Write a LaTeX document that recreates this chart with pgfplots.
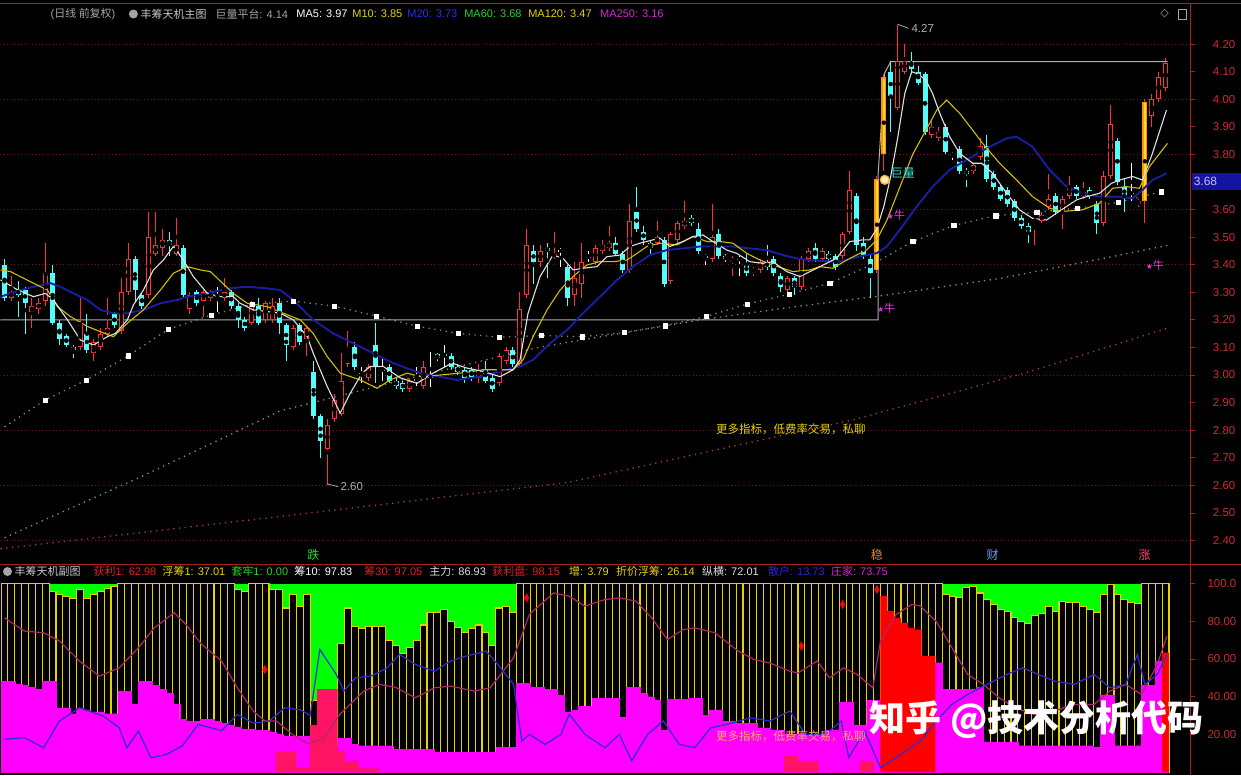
\documentclass[border=0pt]{standalone}
\usepackage{pgfplots}
\pgfplotsset{compat=1.18}
\usepackage{pgfplotstable}
\usepackage{fontspec}
\setmainfont{Liberation Sans}
\newfontfamily\cjk{Noto Sans CJK SC}
\newfontfamily\dejavu{DejaVu Sans}

\definecolor{cyanc}{RGB}{84,252,252}
\definecolor{redc}{RGB}{255,50,50}
\definecolor{orangec}{RGB}{255,150,0}
\definecolor{orangein}{RGB}{255,215,60}
\definecolor{ma5}{RGB}{225,225,225}
\definecolor{ma10}{RGB}{210,190,0}
\definecolor{ma20}{RGB}{25,30,160}
\definecolor{ma60}{RGB}{130,140,110}
\definecolor{ma120}{RGB}{150,150,80}
\definecolor{ma250}{RGB}{160,60,90}
\definecolor{gridr}{RGB}{120,20,20}
\definecolor{axr}{RGB}{170,30,30}
\definecolor{lblr}{RGB}{200,45,45}
\definecolor{platg}{RGB}{175,175,175}
\definecolor{greenf}{RGB}{0,255,0}
\definecolor{magf}{RGB}{255,0,255}
\definecolor{redf}{RGB}{255,0,0}
\definecolor{crim}{RGB}{255,20,100}
\definecolor{yel}{RGB}{230,210,0}
\definecolor{purl}{RGB}{170,40,110}
\definecolor{bluel}{RGB}{45,45,215}
\definecolor{hgrey}{RGB}{165,165,165}
\definecolor{mag2}{RGB}{230,50,230}
\definecolor{boxblue}{RGB}{20,20,160}
\definecolor{boxtxt}{RGB}{190,190,255}
\definecolor{lgrey}{RGB}{200,200,200}
\definecolor{m20c}{RGB}{40,50,230}
\definecolor{m60c}{RGB}{40,210,40}
\definecolor{m250c}{RGB}{210,40,210}
\definecolor{diegreen}{RGB}{50,210,50}
\definecolor{wenor}{RGB}{230,130,50}
\definecolor{caiblue}{RGB}{110,160,255}
\definecolor{zhangred}{RGB}{255,80,110}
\definecolor{hred}{RGB}{230,30,30}
\definecolor{wgrey}{RGB}{220,220,220}
\definecolor{sanblue}{RGB}{40,40,230}
\definecolor{julring}{RGB}{255,170,30}
\definecolor{julfill}{RGB}{255,235,190}
\definecolor{julcyan}{RGB}{60,220,220}
\definecolor{bottxt}{RGB}{255,170,90}

% ---------- candles: i O H L C ----------
\pgfplotstableread{
i O H L C
0 3.40 3.42 3.27 3.28
2 3.31 3.34 3.21 3.29
3 3.31 3.32 3.15 3.26
7 3.37 3.40 3.18 3.19
8 3.19 3.20 3.11 3.13
9 3.14 3.15 3.10 3.11
10 3.10 3.11 3.06 3.09
12 3.15 3.22 3.08 3.09
16 3.22 3.23 3.17 3.18
19 3.42 3.43 3.27 3.31
20 3.29 3.30 3.24 3.25
24 3.49 3.52 3.43 3.47
26 3.46 3.47 3.28 3.29
28 3.30 3.31 3.25 3.26
33 3.30 3.31 3.24 3.25
34 3.25 3.26 3.17 3.20
35 3.20 3.21 3.16 3.17
37 3.25 3.28 3.18 3.19
40 3.26 3.28 3.15 3.19
41 3.18 3.19 3.05 3.11
43 3.18 3.19 3.11 3.12
45 3.01 3.05 2.84 2.85
46 2.85 2.86 2.70 2.76
51 3.10 3.12 3.02 3.03
54 3.11 3.19 2.97 3.03
56 3.03 3.04 2.97 2.98
57 2.98 2.99 2.95 2.96
58 2.97 2.98 2.94 2.95
63 3.075 3.08 3.05 3.06
65 3.07 3.08 3.02 3.03
66 3.03 3.04 3.00 3.01
67 3.02 3.03 2.97 2.99
68 3.02 3.03 2.98 2.99
70 3.02 3.05 2.97 2.98
71 2.99 3.00 2.94 2.95
74 3.09 3.10 3.03 3.04
77 3.45 3.47 3.33 3.41
79 3.46 3.48 3.35 3.45
82 3.39 3.40 3.25 3.28
89 3.48 3.50 3.43 3.44
90 3.44 3.45 3.37 3.38
92 3.59 3.68 3.52 3.53
93 3.52 3.54 3.47 3.49
94 3.48 3.49 3.44 3.46
96 3.49 3.50 3.32 3.33
100 3.57 3.58 3.54 3.55
101 3.53 3.55 3.44 3.45
104 3.51 3.53 3.42 3.43
105 3.43 3.44 3.41 3.42
108 3.40 3.44 3.36 3.37
111 3.41 3.47 3.38 3.39
112 3.42 3.43 3.36 3.37
113 3.36 3.37 3.30 3.32
115 3.35 3.36 3.29 3.32
118 3.46 3.48 3.41 3.42
120 3.44 3.45 3.41 3.42
121 3.43 3.44 3.38 3.39
124 3.65 3.66 3.45 3.47
125 3.48 3.50 3.42 3.43
126 3.42 3.44 3.28 3.37
129 4.10 4.14 3.88 4.01
132 4.14 4.17 4.09 4.11
133 4.10 4.12 4.05 4.06
134 4.09 4.10 3.87 3.88
137 3.90 3.91 3.80 3.81
139 3.82 3.83 3.73 3.74
140 3.74 3.75 3.68 3.73
143 3.83 3.87 3.70 3.71
144 3.73 3.74 3.67 3.68
145 3.68 3.69 3.63 3.64
146 3.67 3.68 3.61 3.62
147 3.63 3.64 3.56 3.57
148 3.57 3.58 3.53 3.54
149 3.54 3.55 3.48 3.52
153 3.65 3.66 3.58 3.59
156 3.68 3.69 3.64 3.65
158 3.67 3.68 3.64 3.65
159 3.62 3.63 3.51 3.55
162 3.85 3.86 3.69 3.70
163 3.68 3.71 3.59 3.65
}\tabdown
\pgfplotstableread{
i O H L C
1 3.28 3.36 3.27 3.30
4 3.23 3.28 3.17 3.25
5 3.24 3.28 3.22 3.26
6 3.27 3.48 3.25 3.37
11 3.10 3.28 3.09 3.18
13 3.08 3.13 3.05 3.12
14 3.10 3.17 3.09 3.15
15 3.15 3.28 3.14 3.17
17 3.16 3.35 3.15 3.30
18 3.30 3.48 3.29 3.42
21 3.29 3.59 3.28 3.50
22 3.44 3.59 3.43 3.47
23 3.46 3.53 3.43 3.49
25 3.44 3.57 3.43 3.47
27 3.24 3.30 3.22 3.29
29 3.27 3.31 3.21 3.30
30 3.28 3.31 3.27 3.30
32 3.28 3.35 3.27 3.30
36 3.19 3.27 3.18 3.26
38 3.20 3.27 3.19 3.26
39 3.20 3.28 3.19 3.25
42 3.10 3.18 3.09 3.17
44 3.13 3.18 3.07 3.17
47 2.73 2.84 2.60 2.82
48 2.84 2.93 2.83 2.91
49 2.86 3.08 2.85 2.98
50 3.04 3.16 3.03 3.10
53 2.99 3.04 2.98 3.03
59 2.95 2.99 2.94 2.98
61 2.96 3.05 2.95 3.03
69 2.99 3.04 2.97 3.02
72 2.97 3.08 2.96 3.07
73 3.05 3.10 3.04 3.09
75 3.04 3.30 3.03 3.24
76 3.29 3.53 3.28 3.47
78 3.41 3.47 3.39 3.45
80 3.43 3.52 3.42 3.44
83 3.29 3.41 3.25 3.35
84 3.33 3.48 3.28 3.41
86 3.41 3.47 3.40 3.46
87 3.45 3.49 3.44 3.47
88 3.46 3.54 3.45 3.48
91 3.38 3.62 3.37 3.56
95 3.48 3.56 3.47 3.50
97 3.34 3.52 3.33 3.51
98 3.49 3.56 3.48 3.55
99 3.54 3.63 3.53 3.56
103 3.42 3.62 3.41 3.50
106 3.411 3.43 3.36 3.418
109 3.375 3.39 3.36 3.381
110 3.38 3.42 3.37 3.41
114 3.31 3.36 3.30 3.35
116 3.32 3.43 3.31 3.42
117 3.42 3.46 3.41 3.45
119 3.42 3.46 3.41 3.45
122 3.43 3.52 3.42 3.51
123 3.52 3.74 3.51 3.67
130 3.97 4.27 3.96 4.14
131 4.10 4.20 4.09 4.14
135 3.87 3.92 3.86 3.90
136 3.86 3.90 3.85 3.88
141 3.74 3.77 3.73 3.76
142 3.79 3.86 3.78 3.83
150 3.53 3.60 3.47 3.59
151 3.56 3.59 3.55 3.58
152 3.61 3.73 3.60 3.64
154 3.59 3.65 3.53 3.64
155 3.65 3.72 3.64 3.68
157 3.65 3.70 3.64 3.665
160 3.55 3.74 3.54 3.72
161 3.72 3.98 3.71 3.91
165 3.62 3.64 3.61 3.63
167 3.94 4.02 3.90 4.00
168 4.00 4.10 3.99 4.08
169 4.04 4.15 4.03 4.13
}\tabup
\pgfplotstableread{
i O H L C
31 3.285 3.32 3.23 3.289
52 3.005 3.03 2.97 3.009
55 3.018 3.06 2.98 3.022
60 2.980 3.03 2.96 2.984
62 2.992 3.085 2.958 2.996
64 3.071 3.11 3.03 3.075
81 3.448 3.46 3.39 3.452
85 3.427 3.45 3.41 3.431
102 3.427 3.44 3.40 3.431
107 3.418 3.43 3.36 3.422
138 3.797 3.81 3.78 3.801
164 3.657 3.77 3.63 3.661
}\tabdoji
\pgfplotstableread{
i O H L C
127 3.38 3.72 3.37 3.71
128 3.80 4.09 3.74 4.08
166 3.63 4.00 3.55 3.99
}\taborng
% volume-highlight bodies as open/close segments (nan = break)
\pgfplotstableread{
x y
127 3.38
127 3.71
127 nan
128 3.80
128 4.08
128 nan
166 3.63
166 3.99
}\taborngseg
\pgfplotstableread{
x y
127 3.385
127 3.705
127 nan
128 3.805
128 4.075
128 nan
166 3.635
166 3.985
}\taborngin

% ---------- moving averages (px = picture x, p = price) ----------
\pgfplotstableread{
px p
0 3.345
17 3.309
33 3.284
45 3.296
53 3.272
67 3.200
80 3.127
93 3.109
107 3.139
115 3.151
127 3.200
133 3.254
143 3.308
153 3.381
163 3.417
173 3.466
182 3.423
193 3.357
207 3.296
220 3.284
233 3.284
240 3.260
253 3.236
267 3.230
280 3.224
293 3.200
307 3.139
313 3.079
327 2.958
340 2.862
350 2.934
362 3.007
370 3.031
383 3.031
400 2.990
417 2.970
433 3.007
452 3.043
467 3.025
483 3.013
500 2.994
513 3.019
520 3.055
528 3.224
540 3.357
553 3.435
563 3.423
573 3.381
583 3.387
597 3.393
607 3.429
620 3.435
630 3.466
640 3.478
653 3.490
660 3.496
670 3.466
683 3.484
693 3.502
703 3.508
713 3.484
727 3.453
737 3.441
750 3.411
763 3.405
773 3.411
787 3.375
800 3.357
817 3.387
837 3.424
850 3.484
863 3.490
870 3.490
877 3.530
884 3.610
891 3.720
898 3.860
905 4.020
912 4.100
919 4.090
926 4.070
933 4.020
940 3.950
950 3.864
960 3.804
973 3.768
982 3.768
993 3.731
1007 3.659
1020 3.599
1033 3.568
1047 3.562
1057 3.587
1067 3.611
1077 3.635
1087 3.647
1100 3.659
1112 3.695
1120 3.707
1133 3.720
1143 3.707
1153 3.804
1167 3.961
}\tabmafive
\pgfplotstableread{
px p
0 3.381
10 3.375
33 3.333
47 3.308
57 3.248
70 3.212
87 3.176
100 3.157
113 3.139
127 3.188
143 3.236
160 3.308
173 3.369
187 3.393
200 3.381
210 3.375
233 3.296
247 3.260
267 3.248
283 3.224
300 3.200
313 3.151
327 3.067
340 3.007
360 2.982
377 2.952
390 2.982
407 3.007
420 2.994
440 3.000
460 3.007
483 3.019
500 3.019
513 3.019
523 3.055
533 3.139
547 3.236
560 3.308
573 3.357
587 3.399
600 3.411
613 3.411
627 3.417
637 3.441
647 3.466
660 3.478
677 3.472
693 3.502
707 3.484
720 3.484
733 3.478
747 3.441
760 3.417
773 3.399
793 3.375
810 3.381
820 3.393
833 3.387
847 3.417
867 3.454
877 3.490
887 3.560
900 3.680
913 3.800
927 3.893
937 3.960
947 3.997
960 3.949
973 3.888
983 3.840
1000 3.768
1017 3.707
1033 3.647
1050 3.605
1063 3.593
1083 3.599
1100 3.623
1113 3.677
1127 3.683
1140 3.677
1150 3.756
1168 3.840
}\tabmaten
\pgfplotstableread{
px p
0 3.284
20 3.308
33 3.320
50 3.333
60 3.320
73 3.296
87 3.272
100 3.236
113 3.224
127 3.224
143 3.236
160 3.260
177 3.272
187 3.284
207 3.296
227 3.314
247 3.320
267 3.314
280 3.308
293 3.272
313 3.200
333 3.151
353 3.115
373 3.079
393 3.043
420 3.007
440 2.994
457 2.982
480 2.994
500 3.013
520 3.031
533 3.055
550 3.115
567 3.163
583 3.224
600 3.284
617 3.345
633 3.393
650 3.435
667 3.453
683 3.459
700 3.466
717 3.466
733 3.466
750 3.459
767 3.453
783 3.435
800 3.420
820 3.414
840 3.411
860 3.430
877 3.442
887 3.466
900 3.526
917 3.611
933 3.683
950 3.744
967 3.780
987 3.822
1007 3.858
1017 3.864
1033 3.828
1050 3.744
1067 3.683
1083 3.659
1100 3.647
1117 3.647
1133 3.641
1143 3.671
1153 3.707
1167 3.731
}\tabmatwenty
\pgfplotstableread{
px p
4 2.812
45 2.910
86 2.982
128 3.070
168 3.166
211 3.218
252 3.256
293 3.268
334 3.250
376 3.214
417 3.177
458 3.151
499 3.137
541 3.143
582 3.139
624 3.154
665 3.179
706 3.212
747 3.257
789 3.293
830 3.333
872 3.400
913 3.484
954 3.542
996 3.578
1037 3.590
1078 3.605
1119 3.626
1162 3.665
}\tabmasixty
\pgfplotstableread{
px p
45 2.910
86 2.982
128 3.070
168 3.166
211 3.218
252 3.256
293 3.268
334 3.250
376 3.214
417 3.177
458 3.151
499 3.137
541 3.143
582 3.139
624 3.154
665 3.179
706 3.212
747 3.257
789 3.293
830 3.333
913 3.484
954 3.542
996 3.578
1037 3.590
1078 3.605
1119 3.626
1162 3.665
}\tabsquares
\pgfplotstableread{
px p
4 2.410
140 2.630
280 2.870
400 2.980
538 3.100
700 3.200
800 3.250
877 3.285
1000 3.350
1100 3.420
1168 3.470
}\tabmaonetwenty
\pgfplotstableread{
px p
0 2.370
280 2.487
567 2.610
854 2.838
1026 3.008
1168 3.170
}\tabmatwofifty

% ---------- lower panel: i B(black) M(magenta) R(red) C(crimson) ----------
\pgfplotstableread{
i B M R C
0 100 48 0 0
1 100 48 0 0
2 100 46.5 0 0
3 100 46 0 0
4 100 45 0 0
5 100 44 0 0
6 100 48 0 0
7 96 48 0 0
8 94 34 0 0
9 93 34 0 0
10 92 31 0 0
11 97 34 0 0
12 92 33 0 0
13 94 32 0 0
14 96 32 0 0
15 97.5 31 0 0
16 98.5 31 0 0
17 100 43 0 0
18 100 43 0 0
19 100 36 0 0
20 100 48 0 0
21 100 48 0 0
22 100 46 0 0
23 100 44 0 0
24 100 42 0 0
25 100 36 0 0
26 100 28 0 0
27 100 27 0 0
28 100 27 0 0
29 100 28 0 0
30 100 28 0 0
31 100 27 0 0
32 100 26 0 0
33 100 25 0 0
34 97 24 0 0
35 96 23 0 0
36 100 23 0 0
37 100 22 0 0
38 100 22 0 0
39 97 21 0 0
40 97 20 0 11
41 87 19 0 11
42 94 19 0 11
43 88 19 0 2.4
44 94 19 0 2.4
45 38 15 0 25
46 0 14 0 44
47 0 14 0 44
48 0 14 0 44
49 68 18 0 11
50 87 18 0 6
51 77 15 0 6
52 76 14 0 2
53 77 14 0 2
54 77 14 0 2
55 77 14 0 0
56 70 14 0 0
57 67 12 0 0
58 63 12 0 0
59 66 12 0 0
60 70 12 0 0
61 78 12 0 0
62 84.5 12 0 0
63 84.5 10.5 0 0
64 86 10.5 0 0
65 80 10.5 0 0
66 76.5 10.5 0 0
67 74 10.5 0 0
68 76 10.5 0 0
69 78 10.5 0 0
70 74 10.5 0 0
71 67 10.5 0 0
72 87 13 0 0
73 88 13 0 0
74 84.5 13 0 0
75 100 47 0 0
76 100 47 0 0
77 100 45 0 0
78 100 45 0 0
79 100 44 0 0
80 100 44 0 0
81 100 41 0 0
82 100 32 0 0
83 100 33 0 0
84 100 35 0 0
85 100 35 0 0
86 100 39 0 0
87 100 39 0 0
88 100 39 0 0
89 100 39 0 0
90 100 29 0 0
91 100 45 0 0
92 100 45 0 0
93 100 42 0 0
94 100 40 0 0
95 100 38 0 0
96 100 22 0 0
97 100 38.5 0 0
98 100 38.5 0 0
99 100 38.5 0 0
100 100 39 0 0
101 100 39 0 0
102 100 30 0 0
103 100 33 0 0
104 100 33 0 0
105 100 27 0 0
106 100 27 0 0
107 100 26 0 0
108 100 26 0 0
109 100 26 0 0
110 100 23.5 0 0
111 100 23.5 0 0
112 100 22 0 0
113 100 22 0 0
114 100 20 0 8.5
115 100 20 0 8.5
116 100 20 0 6
117 100 20 0 6
118 100 20 0 6
119 100 20 0 0
120 100 22 0 0
121 100 22 0 0
122 100 37 0 0
123 100 37 0 0
124 100 25 0 0
125 100 25 0 6
126 100 38 0 6
127 100 38 0 0
128 100 0 93.3 0
129 100 0 85.4 0
130 100 0 81.8 0
131 100 0 79.2 0
132 100 0 76.5 0
133 100 0 75.6 0
134 100 0 61.5 0
135 100 0 61.5 0
136 100 58 0 0
137 94 44 0 0
138 93.3 44 0 0
139 92.4 44 0 0
140 97.7 44 0 0
141 98.6 44 0 0
142 95 45 0 0
143 91.5 16 0 0
144 89 16 0 0
145 86.2 16 0 0
146 85.4 16 0 0
147 82 16 0 0
148 80 14 0 0
149 79 14 0 0
150 83 14 0 0
151 84 14 0 0
152 88 14 0 0
153 85.4 14 0 0
154 90.7 14 0 0
155 89.8 14 0 0
156 89.8 14 0 0
157 88 14 0 0
158 86 14 0 0
159 84.5 13 0 0
160 94.2 41 0 0
161 99.5 41 0 0
162 94 14 0 0
163 91.5 14 0 0
164 89.8 14 0 0
165 89.2 14 0 0
166 100 46 0 0
167 100 46 0 0
168 100 59 0 0
169 100 0 63.3 0
}\tablow
\pgfplotstableread{
i v
0 81.8
2.9 74.8
5.7 73.9
8.0 69.5
10.9 58.9
13.8 50.9
16.7 55.3
19.5 65.9
21.8 76.5
24.7 84.5
26.4 78.3
28.7 67.7
31.6 58.9
33.9 44.7
36.2 32.4
37.9 27.1
39.6 27.1
41.9 20
44.2 15
46.5 18
48.8 30.6
52.3 43
54.6 46.5
56.9 45
59.8 39.4
62.6 44.7
64.9 45.6
68.4 43
70.7 44.7
74.1 60.6
76.4 83.6
79.9 95
82.2 93.3
84.5 88
87.4 91.5
89.5 92.4
91.9 90.7
94.2 81.8
96.5 70.3
98.8 75.6
100.5 76.5
103.4 73.9
106.8 64.2
109.1 59.7
111.4 57.9
114.3 53.5
115.5 52.6
118.3 58.9
120.1 50
122.1 55.3
124.1 51.8
126.4 44.7
127.5 69.5
129.8 83.6
132.1 88.9
133.3 88
135.6 80
137.9 66
140.2 51.8
142.5 46.5
144.8 39.4
147.1 34.1
149.9 30.6
152.8 32.4
155.7 35.9
158.6 35.9
160.9 43
163.2 46.5
165.5 41.2
167.8 57.1
169.2 72.1
}\tabpurple
\pgfplotstableread{
i v
0 17.4
2.9 18.3
5.7 12.9
8.0 27.1
10.9 34.1
14.4 29.7
16.7 23.5
17.8 12.9
19.5 21.8
21.3 7.6
23.6 9.4
25.9 14
28.2 25.3
31.6 22
33.9 30.6
36.2 26
38.5 27
40.8 34.1
43.1 33
44.5 30
45.9 65
48.3 51.8
49.4 43
51.1 50
53.4 51
55.7 55.3
57.5 62.4
59.8 57.1
62.6 53.5
64.9 58.9
67.2 61.5
70.1 64.2
71.8 57.1
74.1 46.5
75.3 16.5
76.4 20
78.7 14.7
81.0 20
82.2 30.6
84.5 20
87.4 12.9
89.5 20
91.3 6
93.6 20
95.9 27.1
98.2 14.7
100.5 13
102.8 23.5
105.1 25.3
108.6 28.8
111.4 27.1
114.3 32.4
116.6 20
119.5 20
121.8 27.1
122.9 7.7
125.2 21.8
127.5 2.4
129.8 7.7
133.3 16.5
135.6 27.1
137.9 35.9
140.2 41.2
143.0 46.5
145.9 51.8
148.2 55.3
150.5 51.8
152.8 48.3
155.7 46.5
158.6 51.8
160.9 44.7
163.2 46.5
164.9 62.4
166.0 46.5
167.8 51.8
169.2 62.4
}\tabblue

\pgfplotsset{
  cwick/.style={only marks, mark=none, forget plot, error bars/.cd, y dir=both, y explicit, error mark=none, error bar style={solid, line width=1pt, color=#1}},
  cbody/.style 2 args={only marks, mark=none, forget plot, error bars/.cd, y dir=both, y explicit, error mark=none, error bar style={solid, line cap=butt, line width=#2, color=#1}},
  table/pxtab/.style={x expr={(\thisrow{px}-4)/6.876}, y=p},
}
\tikzset{
  hdr/.style={anchor=west, inner sep=0pt, font=\fontsize{11}{13}\selectfont},
  lbl/.style={anchor=east, inner sep=0pt, text=lblr, font=\fontsize{11.5}{13}\selectfont},
}

\begin{document}
\begin{tikzpicture}[x=1pt,y=1pt]
\fill[black] (0,0) rectangle (1241,776);

% ================= upper panel =================
\begin{axis}[at={(0pt,213pt)}, anchor=south west, width=1191pt, height=543.72pt,
  scale only axis, xmin=-0.582, xmax=172.64, ymin=2.32, ymax=4.29,
  axis line style={draw=none}, xtick=\empty, ytick=\empty]
\pgfplotsinvokeforeach{2.4,2.6,2.8,3.0,3.4,3.6,3.8,4.0,4.2}{
  \draw[gridr, line width=0.8pt, dash pattern=on 1pt off 2.5pt] (axis cs:-0.6,#1) -- (axis cs:172.7,#1);
}
% slow averages (dotted)
\addplot[ma250, line width=1.3pt, dash pattern=on 1.3pt off 4.5pt, forget plot] table[pxtab] {\tabmatwofifty};
\addplot[ma120, line width=1.3pt, dash pattern=on 1.3pt off 4.5pt, forget plot] table[pxtab] {\tabmaonetwenty};
\addplot[ma60, line width=1.3pt, dash pattern=on 1.3pt off 4.5pt, forget plot] table[pxtab] {\tabmasixty};
% platform lines
\addplot[platg, line width=1pt, forget plot] coordinates {(-0.6,3.20) (127.15,3.20) (127.15,3.72) (128.1,4.095) (129,4.136) (169.3,4.136)};
% candles: wicks
\addplot[cwick=cyanc] table[x=i, y expr={(\thisrow{H}+\thisrow{L})/2}, y error expr={(\thisrow{H}-\thisrow{L})/2}] {\tabdown};
\addplot[cwick=redc] table[x=i, y expr={(\thisrow{H}+\thisrow{L})/2}, y error expr={(\thisrow{H}-\thisrow{L})/2}] {\tabup};
\addplot[cwick=white] table[x=i, y expr={(\thisrow{H}+\thisrow{L})/2}, y error expr={(\thisrow{H}-\thisrow{L})/2}] {\tabdoji};
\addplot[cwick=redc] table[x=i, y expr={(\thisrow{H}+\thisrow{L})/2}, y error expr={(\thisrow{H}-\thisrow{L})/2}] {\taborng};
% bodies
\addplot[cbody={cyanc}{5pt}] table[x=i, y expr={(\thisrow{O}+\thisrow{C})/2}, y error expr={abs(\thisrow{O}-\thisrow{C})/2}] {\tabdown};
\addplot[cbody={redc}{5pt}] table[x=i, y expr={(\thisrow{O}+\thisrow{C})/2}, y error expr={abs(\thisrow{O}-\thisrow{C})/2}] {\tabup};
\addplot[cbody={black}{3.3pt}] table[x=i, y expr={(\thisrow{O}+\thisrow{C})/2}, y error expr={max(abs(\thisrow{O}-\thisrow{C})/2-0.0036,0)}] {\tabup};
\addplot[cbody={white}{5pt}] table[x=i, y expr={(\thisrow{O}+\thisrow{C})/2}, y error expr={abs(\thisrow{O}-\thisrow{C})/2}] {\tabdoji};
\addplot[orangec, solid, line width=5pt, line cap=butt, unbounded coords=jump, forget plot] table[x=x, y=y] {\taborngseg};
\addplot[orangein, solid, line width=2.4pt, line cap=butt, unbounded coords=jump, forget plot] table[x=x, y=y] {\taborngin};
% MA lines
\addplot[ma20, line width=1.9pt, forget plot] table[pxtab] {\tabmatwenty};
\addplot[ma10, line width=1.1pt, forget plot] table[pxtab] {\tabmaten};
\addplot[ma5, line width=1.1pt, forget plot] table[pxtab] {\tabmafive};
\addplot[only marks, mark=square*, mark size=2.1pt, mark options={fill=white, draw=white}, forget plot] table[pxtab] {\tabsquares};
% high / low annotations
\draw[platg, line width=0.8pt] (axis cs:130,4.272) -- (axis cs:131.6,4.257);
\node[anchor=west, inner sep=0pt, text=platg, font=\fontsize{11.5}{13}\selectfont] at (axis cs:132.0,4.257) {4.27};
\draw[platg, line width=0.8pt] (axis cs:47,2.605) -- (axis cs:48.6,2.595);
\node[anchor=west, inner sep=0pt, text=platg, font=\fontsize{11.5}{13}\selectfont] at (axis cs:48.9,2.595) {2.60};
\end{axis}

% ================= lower panel =================
\begin{axis}[at={(0pt,1.36pt)}, anchor=south west, width=1191pt, height=196.3pt,
  scale only axis, xmin=-0.582, xmax=172.64, ymin=-1, ymax=103,
  axis line style={draw=none}, xtick=\empty, ytick=\empty]
\fill[greenf] (axis cs:-0.5,0) rectangle (axis cs:169.5,100);
\addplot[ybar, bar width=6.876pt, bar shift=0pt, fill=black, draw=yel, line width=1.1pt, forget plot] table[x=i, y=B] {\tablow};
\addplot[ybar, bar width=6.876pt, bar shift=0pt, fill=magf, draw=magf, line width=0.3pt, forget plot] table[x=i, y=M] {\tablow};
\addplot[ybar, bar width=6.876pt, bar shift=0pt, fill=redf, draw=none, forget plot] table[x=i, y=R] {\tablow};
\addplot[ybar, bar width=6.876pt, bar shift=0pt, fill=crim, draw=none, forget plot] table[x=i, y=C] {\tablow};
\addplot[purl, line width=1.2pt, forget plot] table[x=i, y=v] {\tabpurple};
\addplot[bluel, line width=1.2pt, forget plot] table[x=i, y=v] {\tabblue};
\addplot[only marks, mark=diamond*, mark size=3pt, mark options={fill=red, draw=red, yscale=1.4}, forget plot]
  coordinates {(37.9,54.4) (76.0,92.4) (116,66.8) (122,88.9) (127,96.8)};
\end{axis}

% ================= frame lines =================
\draw[axr, line width=1pt] (0,772) -- (1241,772);
\draw[axr, line width=1pt] (0,211) -- (1241,211);
\draw[axr, line width=1pt] (1191,0) -- (1191,772);

% price labels
\foreach \p/\Y in {4.20/731.88,4.10/704.28,4.00/676.68,3.90/649.08,3.80/621.48,3.60/566.28,3.50/538.68,3.40/511.08,3.30/483.48,3.20/455.88,3.10/428.28,3.00/400.68,2.90/373.08,2.80/345.48,2.70/317.88,2.60/290.28,2.50/262.68,2.40/235.08}{
  \draw[axr, line width=0.8pt] (1191,\Y) -- (1195,\Y);
  \node[lbl] at (1236,\Y) {\p};
}
\foreach \p/\Y in {100.0/192.0,80.00/154.25,60.00/116.5,40.00/78.75,20.00/41.0}{
  \draw[axr, line width=0.8pt] (1191,\Y) -- (1195,\Y);
  \node[lbl] at (1237,\Y) {\p};
}
% current price box
\fill[boxblue] (1192,586) rectangle (1241,603);
\node[anchor=west, inner sep=0pt, text=boxtxt, font=\fontsize{12}{13}\selectfont] at (1194,594.5) {3.68};

% ================= header (upper) =================
\node[hdr, text=hgrey] (a0) at (50,762) {(\cjk 日线 前复权\rmfamily)};
\fill[hgrey] (133,762) circle (4.5);
\node[hdr, text=lgrey] (a1) at (140,762) {\cjk 丰筹天机主图};
\node[hdr, text=hgrey] (a2) at (215,762) {{\cjk 巨量平台}: 4.14};
\node[hdr, text=white] (a3) at (296,762) {MA5: 3.97};
\node[hdr, text=yel] (a4) at (352,762) {M10: 3.85};
\node[hdr, text=m20c] (a5) at (407,762) {M20: 3.73};
\node[hdr, text=m60c] (a6) at (464,762) {MA60: 3.68};
\node[hdr, text=yel] (a7) at (528,762) {MA120: 3.47};
\node[hdr, text=m250c] (a8) at (600,762) {MA250: 3.16};
\node[anchor=center, inner sep=0pt, text=hgrey, font=\fontsize{11}{13}\selectfont] at (1165,762) {\dejavu ◇};
\draw[hgrey, line width=0.8pt] (1179,757) rectangle (1187,767);

% ================= middle markers =================
\node[anchor=center, inner sep=0pt, text=diegreen, font=\fontsize{12}{13}\selectfont] at (313,221) {\cjk 跌};
\node[anchor=center, inner sep=0pt, text=wenor, font=\fontsize{12}{13}\selectfont] at (877,221) {\cjk 稳};
\node[anchor=center, inner sep=0pt, text=caiblue, font=\fontsize{12}{13}\selectfont] at (993,221) {\cjk 财};
\node[anchor=center, inner sep=0pt, text=zhangred, font=\fontsize{12}{13}\selectfont] at (1145,221) {\cjk 涨};

% ================= header (lower) =================
\fill[hgrey] (7,204) circle (4.5);
\node[hdr, text=lgrey] (b0) at (14,204) {\cjk 丰筹天机副图};
\node[hdr, text=hred] (b1) at (93,204) {{\cjk 获利}1: 62.98};
\node[hdr, text=yel] (b2) at (162,204) {{\cjk 浮筹}1: 37.01};
\node[hdr, text=m60c] (b3) at (231,204) {{\cjk 套牢}1: 0.00};
\node[hdr, text=white] (b4) at (294,204) {{\cjk 筹}10: 97.83};
\node[hdr, text=hred] (b5) at (364,204) {{\cjk 筹}30: 97.05};
\node[hdr, text=wgrey] (b6) at (429,204) {{\cjk 主力}: 86.93};
\node[hdr, text=hred] (b7) at (492,204) {{\cjk 获利盘}: 98.15};
\node[hdr, text=yel] (b8) at (569,204) {{\cjk 增}: 3.79};
\node[hdr, text=yel] (b9) at (616,204) {{\cjk 折价浮筹}: 26.14};
\node[hdr, text=wgrey] (b10) at (702,204) {{\cjk 纵横}: 72.01};
\node[hdr, text=sanblue] (b11) at (768,204) {{\cjk 散户}: 13.73};
\node[hdr, text=m250c] (b12) at (831,204) {{\cjk 庄家}: 73.75};

% ================= chart annotations =================
\node[anchor=center, inner sep=0pt, text=yel, font=\fontsize{11.5}{13}\selectfont] at (791,346) {\cjk 更多指标，低费率交易，私聊};
\draw[julring, line width=1.2pt, fill=julfill] (885,596) circle (4.5);
\node[anchor=west, inner sep=0pt, text=julcyan, font=\fontsize{12}{13}\selectfont] at (891,603) {\cjk 巨量};
\node[anchor=west, inner sep=0pt, text=mag2, font=\fontsize{11}{13}\selectfont] at (887,561) {{\dejavu\fontsize{8}{9}\selectfont ★}{\cjk 牛}};
\node[anchor=west, inner sep=0pt, text=mag2, font=\fontsize{11}{13}\selectfont] at (877,467) {{\dejavu\fontsize{8}{9}\selectfont ★}{\cjk 牛}};
\node[anchor=west, inner sep=0pt, text=mag2, font=\fontsize{11}{13}\selectfont] at (1146,510) {{\dejavu\fontsize{8}{9}\selectfont ★}{\cjk 牛}};

\node[anchor=center, inner sep=0pt, text=bottxt, font=\fontsize{11.5}{13}\selectfont] at (791,39) {\cjk 更多指标，低费率交易，私聊};
\node[anchor=center, inner sep=0pt, text=white, font=\fontsize{36}{40}\selectfont] at (1037,56) {\cjk\bfseries 知乎 @技术分析代码};
\end{tikzpicture}
\end{document}
